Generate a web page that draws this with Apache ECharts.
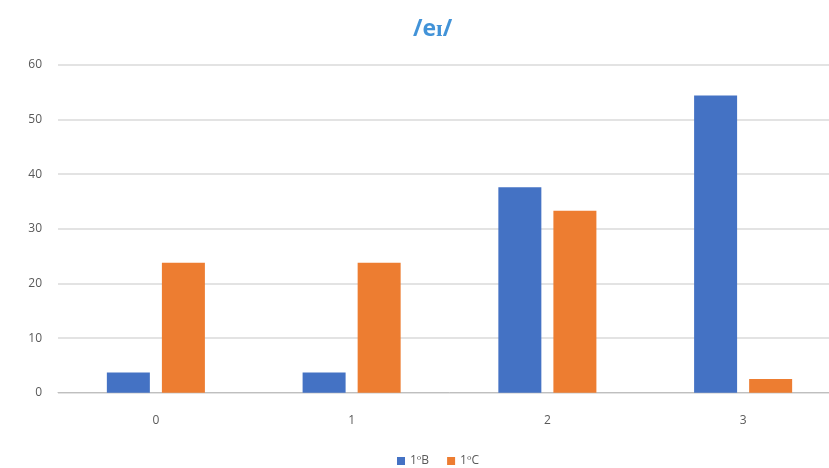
<!DOCTYPE html>
<html><head><meta charset="utf-8">
<script src="https://cdn.jsdelivr.net/npm/echarts@6/dist/echarts.min.js"></script>
<style>html,body{margin:0;padding:0;background:#fff;overflow:hidden}#c{width:841px;height:468px}</style>
</head><body><div id="c"></div>
<script>
const categories = ['0', '1', '2', '3'];
const seriesNames = ['1ºB', '1ºC'];
const values1B = [3.7, 3.7, 37.6, 54.4];
const values1C = [23.8, 23.8, 33.3, 2.5];
const yTicks = [0, 10, 20, 30, 40, 50, 60];

const chart = echarts.init(document.getElementById('c'));
chart.setOption({
  animation: false,
  color: ['#4472C4', '#ED7D31'],
  title: {
    text: '/eɪ/', left: 408, top: 13,
    textStyle: { color: '#4293D8', fontSize: 23, fontWeight: 'bold', fontFamily: 'Open Sans' }
  },
  legend: {
    top: 450, left: 392, itemWidth: 8, itemHeight: 8, itemGap: 18,
    icon: 'rect',
    textStyle: { color: '#595959', fontSize: 12, fontFamily: 'Open Sans' },
    data: seriesNames
  },
  grid: { left: 58, top: 65, right: 0, height: 327.7, containLabel: false },
  xAxis: {
    type: 'category', data: categories,
    axisLine: { lineStyle: { color: '#BFBFBF', width: 1 } },
    axisTick: { show: false },
    axisLabel: { color: '#595959', fontSize: 12, margin: 22, fontFamily: 'Open Sans' }
  },
  yAxis: {
    type: 'value', min: yTicks[0], max: yTicks[yTicks.length - 1], interval: 10,
    axisLine: { show: false }, axisTick: { show: false },
    axisLabel: { color: '#595959', fontSize: 12, margin: 16, fontFamily: 'Open Sans' },
    splitLine: { lineStyle: { color: '#E3E3E3', width: 2 } }
  },
  series: [
    { name: seriesNames[0], type: 'bar', data: values1B, barWidth: 43, barGap: '28%' },
    { name: seriesNames[1], type: 'bar', data: values1C, barWidth: 43, barGap: '28%' }
  ]
});
</script></body></html>
